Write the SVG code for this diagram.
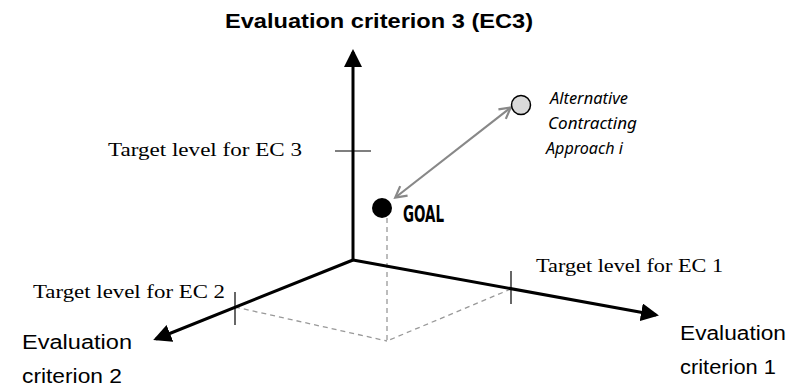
<svg xmlns="http://www.w3.org/2000/svg" width="801" height="388" viewBox="0 0 801 388">
<style>
.axis{stroke:#000;stroke-width:3;fill:none}
.tick{stroke:#000;stroke-width:1.2}
.dash{stroke:#999;stroke-width:1.3;stroke-dasharray:5,4;fill:none}
.serif{font-family:"Liberation Serif","DejaVu Serif",serif;font-size:19px;fill:#000}
.lab{font-family:"Liberation Sans","DejaVu Sans",sans-serif;font-size:20px;fill:#000}
.alt{font-family:"Noto Sans","DejaVu Sans",sans-serif;font-style:italic;font-size:17px;fill:#000}
</style>
<defs>
<marker id="ah" markerWidth="6" markerHeight="6" refX="5" refY="3" orient="auto" markerUnits="strokeWidth">
<path d="M0,0 L6,3 L0,6 Z" fill="#000"/>
</marker>
<marker id="ga" markerWidth="14" markerHeight="14" refX="11" refY="7" orient="auto-start-reverse" markerUnits="userSpaceOnUse">
<path d="M1,1 L12,7 L1,13" fill="none" stroke="#888" stroke-width="2.2"/>
</marker>
</defs>
<g id="connectors">
<line class="dash" x1="387" y1="218" x2="387" y2="340"/>
<line class="dash" x1="235" y1="307" x2="387" y2="341"/>
<line class="dash" x1="511" y1="289" x2="387" y2="341"/>
<line class="axis" x1="353" y1="260" x2="353" y2="52" marker-end="url(#ah)"/>
<line class="axis" x1="353" y1="260" x2="656" y2="315" marker-end="url(#ah)"/>
<line class="axis" x1="353" y1="260" x2="156" y2="339" marker-end="url(#ah)"/>
<line class="tick" x1="335" y1="151" x2="371" y2="151"/>
<line class="tick" x1="235" y1="292" x2="235" y2="325"/>
<line class="tick" x1="511" y1="271" x2="511" y2="304"/>
<line x1="396" y1="197" x2="510" y2="108" stroke="#888" stroke-width="2.2" marker-start="url(#ga)" marker-end="url(#ga)"/>
</g>
<g id="title"><text class="lab" x="225" y="28" font-weight="bold" font-size="18" textLength="308" lengthAdjust="spacingAndGlyphs">Evaluation criterion 3 (EC3)</text></g>
<g id="goal">
<circle cx="382" cy="208" r="10" fill="#000"/>
<text x="403" y="222" font-family="'DejaVu Sans Condensed','DejaVu Sans',sans-serif" font-weight="bold" font-size="23" textLength="41" lengthAdjust="spacingAndGlyphs">GOAL</text>
</g>
<g id="alternative">
<circle cx="521" cy="105" r="9.5" fill="#d9d9d9" stroke="#000" stroke-width="1.5"/>
<text class="alt" x="550" y="104" textLength="78" lengthAdjust="spacingAndGlyphs">Alternative</text>
<text class="alt" x="548" y="129" textLength="89" lengthAdjust="spacingAndGlyphs">Contracting</text>
<text class="alt" x="546" y="154" textLength="77" lengthAdjust="spacingAndGlyphs">Approach i</text>
</g>
<g id="target3"><text class="serif" x="108" y="156" textLength="194" lengthAdjust="spacingAndGlyphs">Target level for EC 3</text></g>
<g id="target1"><text class="serif" x="536" y="272" textLength="187" lengthAdjust="spacingAndGlyphs">Target level for EC 1</text></g>
<g id="target2"><text class="serif" x="33" y="298" textLength="192" lengthAdjust="spacingAndGlyphs">Target level for EC 2</text></g>
<g id="ec1">
<text class="lab" x="680" y="340" textLength="106" lengthAdjust="spacingAndGlyphs">Evaluation</text>
<text class="lab" x="680" y="374" textLength="96" lengthAdjust="spacingAndGlyphs">criterion 1</text>
</g>
<g id="ec2">
<text class="lab" x="22" y="349" textLength="110" lengthAdjust="spacingAndGlyphs">Evaluation</text>
<text class="lab" x="22" y="383" textLength="100" lengthAdjust="spacingAndGlyphs">criterion 2</text>
</g>
</svg>
